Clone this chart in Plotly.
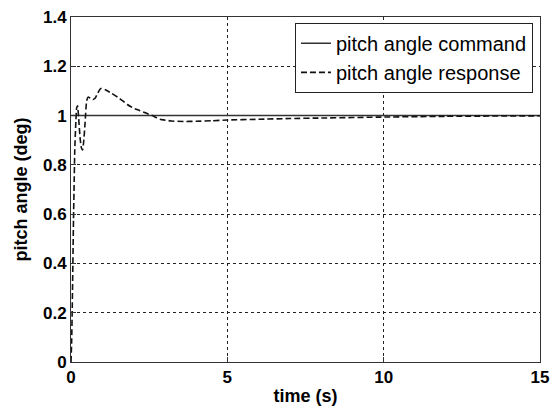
import plotly.graph_objects as go

t_cmd = [0, 15]
cmd = [1, 1]

t_resp = [0, 0.02, 0.04, 0.06, 0.08, 0.10, 0.12, 0.15, 0.18, 0.21, 0.25, 0.29, 0.33, 0.37, 0.41, 0.45, 0.5,
          0.55, 0.62, 0.7, 0.77, 0.85, 0.95, 1.1, 1.3, 1.55, 1.8, 2.0, 2.2, 2.4, 2.6, 2.85, 3.2, 3.6, 4.0,
          4.5, 5.0, 6.0, 7.0, 8.0, 10.0, 12.0, 15.0]
resp = [0, 0.08, 0.22, 0.4, 0.58, 0.72, 0.86, 0.96, 1.03, 1.04, 0.98, 0.91, 0.87, 0.86, 0.9, 0.97, 1.06,
        1.075, 1.07, 1.065, 1.07, 1.09, 1.11, 1.105, 1.09, 1.07, 1.045, 1.03, 1.02, 1.01, 1.0, 0.985, 0.978, 0.976, 0.977,
        0.979, 0.982, 0.985, 0.988, 0.99, 0.994, 0.997, 0.999]

x_ticks = [0, 5, 10, 15]
y_ticks = [0, 0.2, 0.4, 0.6, 0.8, 1, 1.2, 1.4]

fig = go.Figure()
fig.add_trace(go.Scatter(x=t_cmd, y=cmd, mode="lines", name="pitch angle command",
                         line=dict(color="#333333", width=1.5)))
fig.add_trace(go.Scatter(x=t_resp, y=resp, mode="lines", name="pitch angle response",
                         line=dict(color="#111111", width=1.6, dash="6px,3px", shape="spline", smoothing=0.4)))

font_family = "Liberation Sans, Arial, sans-serif"
axis_common = dict(showgrid=True, gridcolor="#222222", griddash="dot", gridwidth=1,
                   showline=True, linecolor="#333333", linewidth=1, mirror=True,
                   ticks="inside", ticklen=5, tickcolor="#333333", zeroline=False,
                   automargin=False,
                   tickfont=dict(family=font_family, size=17, color="black", weight="bold"))

fig.update_layout(
    width=551, height=412,
    margin=dict(l=71, r=11, t=17, b=50),
    plot_bgcolor="white", paper_bgcolor="white",
    font=dict(family=font_family, color="black"),
    showlegend=True,
    legend=dict(x=0.985, y=0.983, xanchor="right", yanchor="top",
                bgcolor="white", bordercolor="#222222", borderwidth=1,
                font=dict(family=font_family, size=20, color="black"),
                tracegroupgap=0, itemwidth=30),
    xaxis=dict(range=[0, 15], tickvals=x_ticks, ticktext=[str(v) for v in x_ticks],
               title=dict(text="time (s)", standoff=2,
                          font=dict(family=font_family, size=18, color="black", weight="bold")),
               **axis_common),
    yaxis=dict(range=[0, 1.4], tickvals=y_ticks, ticktext=[f"{v:g}" for v in y_ticks],
               title=dict(text="pitch angle (deg)", standoff=10,
                          font=dict(family=font_family, size=18, color="black", weight="bold")),
               **axis_common),
)

fig.write_html("out.html")
